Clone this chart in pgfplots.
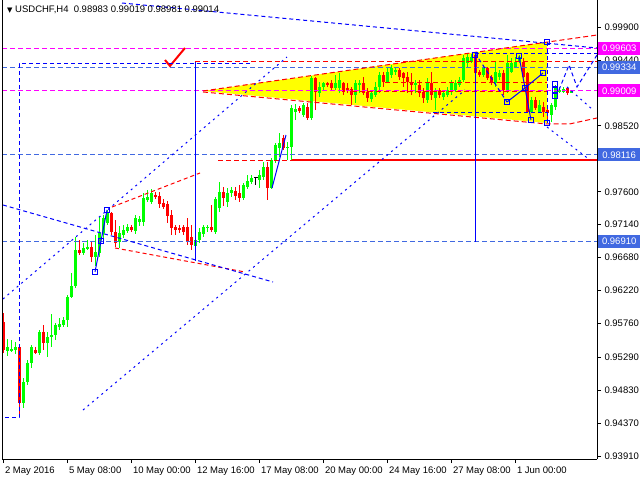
\documentclass[border=0pt]{standalone}
\usepackage{pgfplots}
\pgfplotsset{compat=1.18}
\usepackage{pgfplotstable}
\usepackage{fontspec}
\setmainfont{Liberation Sans}
\newfontfamily\dejavu{DejaVu Sans}
\definecolor{cgreen}{RGB}{0,255,0}
\definecolor{cred}{RGB}{255,0,0}
\definecolor{cmag}{RGB}{255,0,255}
\definecolor{lblue}{RGB}{65,105,225}
\definecolor{dblue}{RGB}{0,0,255}
\definecolor{cyel}{RGB}{255,255,0}

\pgfplotstableread{
i o h l c
1 0.95377 0.95544 0.95307 0.95433
2 0.95377 0.95531 0.95363 0.95405
3 0.95391 0.95503 0.95335 0.95433
5 0.94651 0.95000 0.94581 0.94944
6 0.94944 0.95251 0.94902 0.95209
7 0.95209 0.95461 0.95139 0.95433
9 0.95349 0.95670 0.95321 0.95642
11 0.95489 0.95642 0.95293 0.95572
12 0.95572 0.95893 0.95433 0.95600
13 0.95600 0.95768 0.95531 0.95740
14 0.95712 0.95837 0.95670 0.95754
15 0.95740 0.95851 0.95712 0.95810
16 0.95810 0.96159 0.95712 0.96131
17 0.96131 0.96466 0.96117 0.96284
18 0.96284 0.96968 0.96256 0.96787
20 0.96745 0.96885 0.96717 0.96815
21 0.96801 0.96927 0.96787 0.96829
23 0.96689 0.96996 0.96563 0.96759
24 0.96745 0.97247 0.96689 0.97024
25 0.97024 0.97275 0.96954 0.97233
26 0.97164 0.97345 0.97136 0.97303
29 0.96899 0.97122 0.96815 0.97024
30 0.96996 0.97136 0.96954 0.97066
31 0.97052 0.97150 0.97024 0.97108
33 0.97052 0.97275 0.97010 0.97233
34 0.97178 0.97261 0.97122 0.97219
35 0.97178 0.97583 0.97122 0.97513
36 0.97485 0.97625 0.97457 0.97527
37 0.97457 0.97638 0.97429 0.97583
48 0.96843 0.96982 0.96787 0.96927
49 0.96927 0.97094 0.96885 0.97038
50 0.97010 0.97136 0.96968 0.97108
51 0.97094 0.97136 0.97038 0.97108
53 0.97038 0.97527 0.97010 0.97499
54 0.97373 0.97736 0.97317 0.97597
56 0.97457 0.97652 0.97387 0.97583
57 0.97583 0.97666 0.97527 0.97625
60 0.97513 0.97722 0.97485 0.97694
61 0.97666 0.97834 0.97638 0.97750
62 0.97736 0.97834 0.97708 0.97792
64 0.97764 0.97904 0.97652 0.97834
65 0.97806 0.98015 0.97764 0.97945
67 0.97652 0.98071 0.97638 0.98043
68 0.98043 0.98281 0.98001 0.98253
69 0.98211 0.98420 0.98085 0.98281
71 0.98211 0.98295 0.98043 0.98225
72 0.98225 0.98811 0.98043 0.98769
73 0.98713 0.98825 0.98602 0.98755
75 0.98671 0.98839 0.98643 0.98811
77 0.98629 0.99216 0.98602 0.99188
79 0.98979 0.99132 0.98923 0.99062
80 0.99062 0.99132 0.99021 0.99118
83 0.99048 0.99230 0.99021 0.99118
84 0.99048 0.99258 0.98979 0.99160
88 0.98951 0.99160 0.98839 0.99118
89 0.99090 0.99160 0.98979 0.99118
92 0.98895 0.98993 0.98853 0.98979
93 0.98951 0.99132 0.98923 0.99062
94 0.99062 0.99272 0.98979 0.99230
96 0.99132 0.99341 0.99118 0.99272
97 0.99230 0.99369 0.99188 0.99327
98 0.99272 0.99341 0.99230 0.99300
103 0.99090 0.99160 0.98979 0.99118
106 0.98881 0.99188 0.98839 0.99118
108 0.98909 0.99048 0.98741 0.98993
110 0.98923 0.99021 0.98881 0.98979
111 0.98951 0.99062 0.98923 0.99021
112 0.98993 0.99160 0.98951 0.99118
113 0.99021 0.99160 0.98993 0.99118
114 0.99090 0.99202 0.99062 0.99160
115 0.99160 0.99509 0.99132 0.99467
116 0.99397 0.99537 0.99341 0.99481
117 0.99411 0.99523 0.99397 0.99481
120 0.99230 0.99341 0.99202 0.99327
123 0.99118 0.99411 0.99062 0.99272
124 0.99202 0.99300 0.99160 0.99258
126 0.99021 0.99509 0.98979 0.99397
127 0.99272 0.99467 0.99258 0.99397
128 0.99341 0.99481 0.99327 0.99411
129 0.99411 0.99509 0.99397 0.99481
132 0.98713 0.98923 0.98699 0.98881
134 0.98713 0.98881 0.98699 0.98811
137 0.98671 0.98839 0.98574 0.98811
138 0.98783 0.99090 0.98741 0.99048
139 0.98993 0.99062 0.98979 0.99021
140 0.98993 0.99062 0.98979 0.99034
142 0.98983 0.99019 0.98981 0.99014
}\bull

\pgfplotstableread{
i o h l c
0 0.95782 0.95907 0.95349 0.95391
4 0.95433 0.95461 0.94455 0.94651
8 0.95391 0.95433 0.95335 0.95349
10 0.95642 0.95740 0.95391 0.95489
19 0.96787 0.96927 0.96717 0.96745
22 0.96829 0.96899 0.96619 0.96689
27 0.97303 0.97317 0.96996 0.97038
28 0.97038 0.97206 0.96829 0.96885
32 0.97108 0.97136 0.97038 0.97066
38 0.97555 0.97597 0.97499 0.97527
39 0.97541 0.97597 0.97373 0.97429
40 0.97443 0.97499 0.97359 0.97387
41 0.97429 0.97471 0.97164 0.97261
42 0.97275 0.97345 0.96996 0.97094
43 0.97108 0.97136 0.96996 0.97066
44 0.97094 0.97136 0.97024 0.97066
45 0.97108 0.97136 0.96996 0.97038
46 0.97108 0.97233 0.96857 0.96913
47 0.96968 0.97136 0.96787 0.96857
52 0.97108 0.97415 0.97038 0.97066
55 0.97597 0.97666 0.97401 0.97513
58 0.97611 0.97666 0.97485 0.97541
59 0.97583 0.97694 0.97457 0.97513
66 0.97945 0.98015 0.97485 0.97652
70 0.98350 0.98392 0.98183 0.98211
74 0.98769 0.98797 0.98699 0.98727
76 0.98783 0.98839 0.98602 0.98629
78 0.99188 0.99202 0.98741 0.98993
81 0.99118 0.99132 0.99062 0.99090
82 0.99118 0.99160 0.99021 0.99048
85 0.99118 0.99132 0.98951 0.98993
86 0.99048 0.99118 0.98979 0.99007
87 0.99034 0.99062 0.98811 0.98951
90 0.99118 0.99202 0.98951 0.98979
91 0.98993 0.99048 0.98853 0.98909
95 0.99230 0.99272 0.99062 0.99132
99 0.99300 0.99327 0.99160 0.99202
100 0.99258 0.99272 0.99062 0.99188
101 0.99202 0.99272 0.98979 0.99132
102 0.99132 0.99258 0.98951 0.99090
104 0.99090 0.99160 0.98923 0.98979
105 0.98993 0.99048 0.98839 0.98909
107 0.99118 0.99272 0.98881 0.98951
109 0.99021 0.99048 0.98909 0.98951
118 0.99509 0.99537 0.99230 0.99258
119 0.99272 0.99300 0.99202 0.99230
121 0.99327 0.99341 0.99160 0.99188
122 0.99202 0.99230 0.99090 0.99118
125 0.99258 0.99300 0.98951 0.99021
130 0.99411 0.99467 0.99188 0.99202
131 0.99258 0.99272 0.98699 0.98713
133 0.98881 0.98923 0.98741 0.98769
135 0.98783 0.98853 0.98643 0.98713
136 0.98741 0.98783 0.98615 0.98699
141 0.99048 0.99062 0.98951 0.98979
}\bear

\pgfplotstableread{
i o h l c
63 0.97792 0.97806 0.97694 0.97792
}\doji

\begin{document}
\begin{tikzpicture}
\useasboundingbox (-2pt,-21pt) rectangle (638pt,459pt);
\begin{axis}[
  scale only axis, width=595pt, height=459pt,
  xmin=-0.375, xmax=148.375, ymin=0.93869, ymax=1.00277,
  axis x line*=bottom, axis y line*=right,
  axis line style={black, line width=0.9pt},
  tick align=outside, major tick length=4pt,
  tick style={black, line width=0.8pt},
  xtick={0,16,32,48,64,80,96,112,128},
  xticklabels={2 May 2016, 5 May 08:00, 10 May 00:00, 12 May 16:00, 17 May 08:00, 20 May 00:00, 24 May 16:00, 27 May 08:00, 1 Jun 00:00},
  xticklabel style={anchor=north west, xshift=-2pt},
  ytick={0.93910,0.94370,0.94830,0.95290,0.95760,0.96220,0.96680,0.97140,0.97600,0.98060,0.98520,0.98980,0.99440,0.99900},
  yticklabels={0.93910,0.94370,0.94830,0.95290,0.95760,0.96220,0.96680,0.97140,0.97600,{},0.98520,{},0.99440,0.99900},
  yticklabel style={anchor=west},
  tick label style={font=\fontsize{9.5}{11}\selectfont},
  /pgf/number format/assume math mode=true,
]
% yellow triangle
\addplot[draw=none, fill=cyel, forget plot] coordinates {(49.875,0.99007) (135.875,0.99691) (135.875,0.98560)} -- cycle;

% candles: wicks
\addplot[draw=none, forget plot, error bars/.cd, y dir=both, y explicit, error mark=none,
  error bar style={draw=cgreen, line width=1pt}]
  table[x=i, y expr={(\thisrow{h}+\thisrow{l})/2}, y error expr={(\thisrow{h}-\thisrow{l})/2}] {\bull};
\addplot[draw=none, forget plot, error bars/.cd, y dir=both, y explicit, error mark=none,
  error bar style={draw=cred, line width=1pt}]
  table[x=i, y expr={(\thisrow{h}+\thisrow{l})/2}, y error expr={(\thisrow{h}-\thisrow{l})/2}] {\bear};
\addplot[draw=none, forget plot, error bars/.cd, y dir=both, y explicit, error mark=none,
  error bar style={draw=black, line width=1pt}]
  table[x=i, y expr={(\thisrow{h}+\thisrow{l})/2}, y error expr={(\thisrow{h}-\thisrow{l})/2}] {\doji};
% candles: bodies
\addplot[draw=none, forget plot, error bars/.cd, y dir=both, y explicit, error mark=none,
  error bar style={draw=cgreen, line width=3pt}]
  table[x=i, y expr={(\thisrow{o}+\thisrow{c})/2}, y error expr={abs(\thisrow{c}-\thisrow{o})/2}] {\bull};
\addplot[draw=none, forget plot, error bars/.cd, y dir=both, y explicit, error mark=none,
  error bar style={draw=cred, line width=3pt}]
  table[x=i, y expr={(\thisrow{o}+\thisrow{c})/2}, y error expr={abs(\thisrow{c}-\thisrow{o})/2}] {\bear};
\addplot[only marks, mark=-, mark size=2pt, mark options={black, line width=1pt}, forget plot]
  table[x=i, y=c] {\doji};

% level lines
\addplot[cmag, line width=1pt, dash pattern=on 5pt off 3pt] coordinates {(-0.375,0.99603) (148.375,0.99603)};
\addplot[cmag, line width=1pt, dash pattern=on 5pt off 3pt] coordinates {(-0.375,0.99009) (148.375,0.99009)};
\addplot[lblue, line width=1pt, dash pattern=on 5pt off 3pt] coordinates {(-0.375,0.99334) (148.375,0.99334)};
\addplot[lblue, line width=1pt, dash pattern=on 5pt off 3pt] coordinates {(-0.375,0.98116) (148.375,0.98116)};
\addplot[lblue, line width=1pt, dash pattern=on 5pt off 3pt] coordinates {(-0.375,0.96910) (148.375,0.96910)};

% red lines
\addplot[cred, line width=1pt, dash pattern=on 5pt off 3pt] coordinates {(49.875,0.99007) (148.375,0.99788)};
\addplot[cred, line width=1pt, dash pattern=on 5pt off 3pt] coordinates {(49.875,0.98993) (135.875,0.98546) (141.5,0.98546) (148.375,0.98630)};
\addplot[cred, line width=1pt, dash pattern=on 5pt off 3pt] coordinates {(47.875,0.99425) (148.375,0.99425)};
\addplot[cred, line width=1pt, dash pattern=on 5pt off 3pt] coordinates {(95.375,0.99132) (135.875,0.99132)};
\addplot[cred, line width=1pt, dash pattern=on 5pt off 3pt] coordinates {(87.125,0.98993) (135.875,0.98993)};
\addplot[cred, line width=1pt, dash pattern=on 5pt off 3pt] coordinates {(53.625,0.98043) (72.125,0.98043)};
\addplot[cred, line width=2pt] coordinates {(72.125,0.98043) (148.375,0.98043)};
\addplot[cred, line width=1pt, dash pattern=on 4pt off 3pt] coordinates {(27.125,0.97387) (49.125,0.97862)};
\addplot[cred, line width=1pt, dash pattern=on 4pt off 3pt] coordinates {(27.875,0.96815) (60.375,0.96480)};
\addplot[cred, line width=2pt] coordinates {(40.375,0.99439) (41.625,0.99356) (45.375,0.99607)};

% blue solid verticals
\addplot[dblue, line width=1pt] coordinates {(47.875,0.99411) (47.875,0.96640)};
\addplot[dblue, line width=1pt] coordinates {(117.875,0.99537) (117.875,0.96899)};

% dark blue dashed bracket
\addplot[dblue, line width=1pt, dash pattern=on 4pt off 3pt] coordinates {(0.375,0.94442) (3.875,0.94442) (3.875,0.99384) (61.625,0.99384)};

% dark blue dotted trend lines
\addplot[dblue, line width=1pt, dash pattern=on 2pt off 4pt] coordinates {(-0.125,0.96103) (70.875,0.99481)};
\addplot[dblue, line width=1pt, dash pattern=on 2pt off 4pt] coordinates {(19.875,0.94553) (115.375,0.99021)};
\addplot[dblue, line width=1pt, dash pattern=on 4pt off 3pt] coordinates {(-0.125,0.97415) (67.375,0.96340)};
\addplot[dblue, line width=1pt, dash pattern=on 4pt off 3pt] coordinates {(29.625,1.00235) (148.375,0.99607)};
\addplot[dblue, line width=1pt, dash pattern=on 4pt off 3pt] coordinates {(117.875,0.99537) (148.375,0.99537)};
\addplot[dblue, line width=1pt, dash pattern=on 4pt off 3pt] coordinates {(107.375,0.98700) (135.875,0.98700)};
\addplot[dblue, line width=1pt, dash pattern=on 4pt off 3pt] coordinates {(135.875,0.99691) (135.875,0.98532)};
\addplot[dblue, line width=1pt, dash pattern=on 4pt off 3pt] coordinates {(117.875,0.99537) (125.875,0.98853)};
\addplot[dblue, line width=1pt, dash pattern=on 4pt off 3pt] coordinates {(138.875,0.99021) (141.375,0.99370) (143.375,0.99063) (148.375,0.99509)};
\addplot[dblue, line width=1pt, dash pattern=on 2pt off 4pt] coordinates {(135.875,0.98504) (146.625,0.98043)};
\addplot[dblue, line width=1pt, dash pattern=on 2pt off 4pt] coordinates {(140.875,0.99063) (147.375,0.98742)};

% solid blue zigzags with squares
\addplot[dblue, line width=1pt, mark=square, mark size=2.8pt, mark options={solid, fill=white}] coordinates {(22.875,0.96480) (24.375,0.96913) (25.875,0.97345)};
\addplot[dblue, line width=1pt] coordinates {(67.125,0.97653) (70.625,0.98392)};
\addplot[dblue, line width=1pt, mark=square, mark size=2.8pt, mark options={solid, fill=white}] coordinates {(128.875,0.99495) (130.375,0.99049) (131.875,0.98602)};
\addplot[dblue, line width=1pt, mark=square, mark size=2.8pt, mark options={solid, fill=white}] coordinates {(125.875,0.98853) (130.375,0.99049) (134.875,0.99258)};
\addplot[only marks, dblue, line width=1pt, mark=square, mark size=2.8pt, mark options={solid, fill=white}] coordinates {(135.875,0.99691) (135.875,0.98560) (117.875,0.99509) (137.875,0.99104) (137.875,0.99021) (137.875,0.98937)};

\node[anchor=west, inner sep=0pt, font=\fontsize{9.5}{11}\selectfont] at (rel axis cs:0,1) [xshift=5pt, yshift=-10pt] {{\dejavu\fontsize{7}{8}\selectfont ▼}\ USDCHF,H4\ \ 0.98983 0.99019 0.98981 0.99014};

\coordinate (a1) at (axis cs:148.375,0.99603);
\coordinate (a2) at (axis cs:148.375,0.99334);
\coordinate (a3) at (axis cs:148.375,0.99009);
\coordinate (a4) at (axis cs:148.375,0.98116);
\coordinate (a5) at (axis cs:148.375,0.96910);
\end{axis}
\draw[black, line width=0.9pt] (0,0) -- (0,459pt);
\tikzset{lab/.style={anchor=west, text=white, inner sep=0pt, minimum height=13pt, minimum width=42pt, xshift=1pt, font=\fontsize{9.5}{11}\selectfont}}
\node[lab, fill=cmag] at (a1) {0.99603};
\node[lab, fill=lblue] at (a2) {0.99334};
\node[lab, fill=cmag] at (a3) {0.99009};
\node[lab, fill=lblue] at (a4) {0.98116};
\node[lab, fill=lblue] at (a5) {0.96910};
\end{tikzpicture}
\end{document}
